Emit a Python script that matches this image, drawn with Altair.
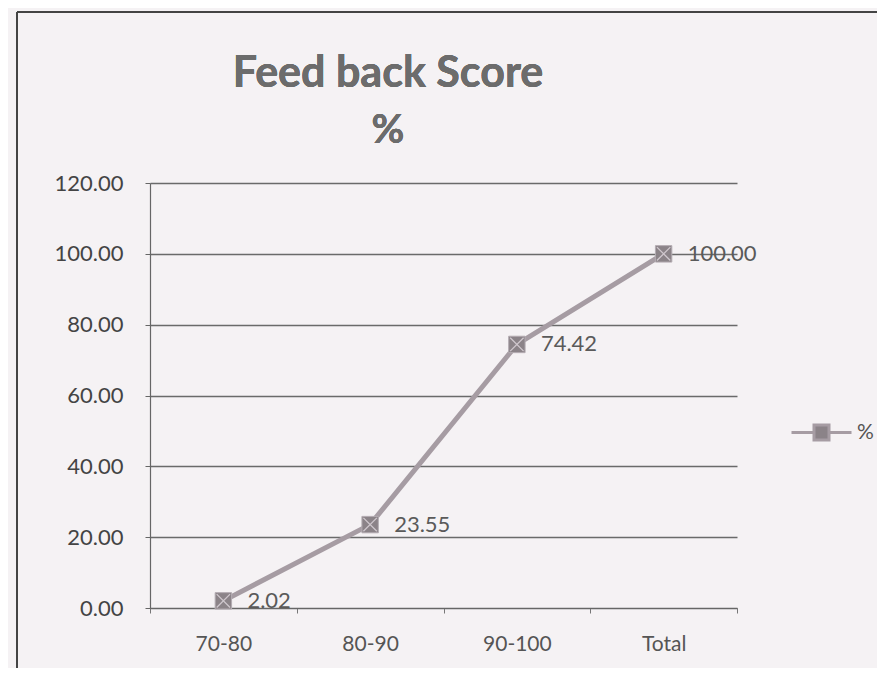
import altair as alt
import pandas as pd

categories = ["70-80", "80-90", "90-100", "Total"]
values = [2.02, 23.55, 74.42, 100.00]
labels = ["2.02", "23.55", "74.42", "100.00"]
series = ["%", "%", "%", "%"]
y_ticks = [0, 20, 40, 60, 80, 100, 120]
title_lines = ["Feed back Score", "%"]

df = pd.DataFrame({"cat": categories, "val": values, "lab": labels, "series": series})

FONT = "Lato"
LINE_C = "#a69ca3"
MARK_C = "#8b8388"

x_enc = alt.X("cat:N", sort=categories, bandPosition=0.5,
              scale=alt.Scale(type="band", paddingInner=0, paddingOuter=0),
              axis=alt.Axis(title=None, labelAngle=0, tickBand="extent", grid=False,
                            labelFont=FONT, labelFontSize=21, labelColor="#555555",
                            labelPadding=20, tickSize=5, tickColor="#777777",
                            domainColor="#666666", domainWidth=1.2))
y_enc = alt.Y("val:Q", scale=alt.Scale(domain=[0, 120], nice=False),
              axis=alt.Axis(title=None, values=y_ticks, format=".2f",
                            labelFont=FONT, labelFontSize=22, labelColor="#444444",
                            labelPadding=22, tickSize=5, tickColor="#666666",
                            domainColor="#666666", domainWidth=1.2,
                            gridColor="#6a6a6a", gridWidth=1.3))

base = alt.Chart(df)

line = base.mark_line(strokeWidth=5, color=LINE_C).encode(x=x_enc, y=y_enc)

points = base.mark_point(shape="square", filled=True, size=270, opacity=1,
                         stroke="#b4acb2", strokeWidth=1).encode(
    x=alt.X("cat:N", sort=categories, bandPosition=0.5),
    y="val:Q",
    color=alt.Color("series:N", scale=alt.Scale(range=[MARK_C]),
                    legend=alt.Legend(title=None, orient="none", legendX=640, legendY=218,
                                      symbolType="M-1,0H-0.25M0.25,0H1M-0.25,-0.25H0.25V0.25H-0.25Z",
                                      symbolSize=3600, symbolStrokeColor=LINE_C,
                                      symbolFillColor=MARK_C, symbolStrokeWidth=3,
                                      labelFont=FONT, labelFontSize=21, labelColor="#555555",
                                      labelOffset=4)),
)

crosses = base.mark_point(shape="M-1,-1L1,1M1,-1L-1,1", size=180, filled=False,
                          stroke="#cfc7cd", strokeWidth=1.3, opacity=1).encode(
    x=alt.X("cat:N", sort=categories, bandPosition=0.5),
    y="val:Q",
)

text = base.mark_text(align="left", baseline="middle", dx=24, font=FONT, fontSize=22,
                      color="#5a5a5a").encode(
    x=alt.X("cat:N", sort=categories, bandPosition=0.5),
    y="val:Q",
    text="lab:N",
)

title1 = alt.Chart(df).mark_text(text=title_lines[0], font=FONT, fontSize=43, fontWeight="bold",
                                 color="#6c6c6c", align="center", baseline="middle").encode(
    x=alt.value(238), y=alt.value(-109))
title2 = alt.Chart(df).mark_text(text=title_lines[1], font=FONT, fontSize=40, fontWeight="bold",
                                 color="#6c6c6c", align="center", baseline="middle").encode(
    x=alt.value(238), y=alt.value(-52))

frame_left = alt.Chart(df).mark_rule(color="#444444", strokeWidth=2).encode(
    x=alt.value(-133), y=alt.value(-171), y2=alt.value(500))
frame_top = alt.Chart(df).mark_rule(color="#444444", strokeWidth=2).encode(
    x=alt.value(-133), x2=alt.value(760), y=alt.value(-171))

chart = alt.layer(frame_left, frame_top, title1, title2, line, points, crosses, text).properties(
    width=587, height=425,
    autosize=alt.AutoSizeParams(type="none"),
    padding={"left": 142, "top": 175, "right": 140, "bottom": 60},
    background="#f5f2f4",
).configure_view(stroke=None)

chart.save("out.html", embed_options={"renderer": "svg", "actions": False})
